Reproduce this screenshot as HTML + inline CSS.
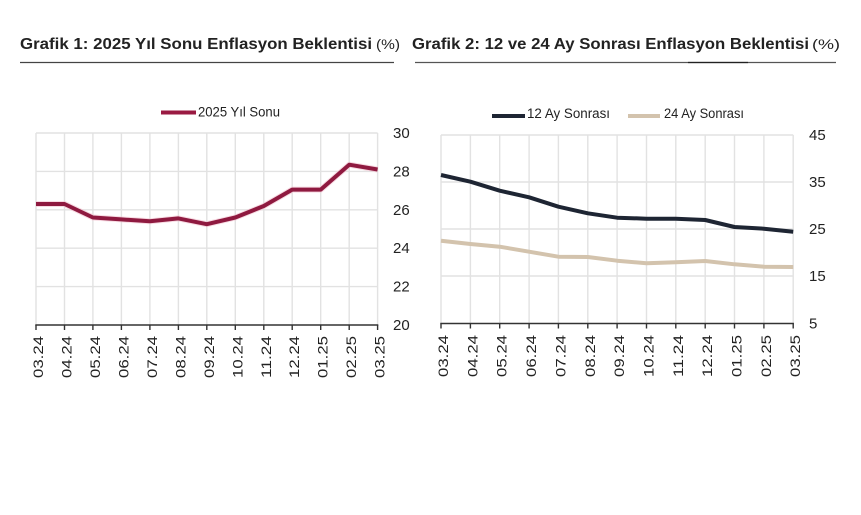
<!DOCTYPE html>
<html><head><meta charset="utf-8"><style>
html,body{margin:0;padding:0;background:#fff;}
svg{display:block;}
text{font-family:"Liberation Sans",sans-serif;fill:#222;}
</style></head><body>
<svg width="861" height="515" viewBox="0 0 861 515" xmlns="http://www.w3.org/2000/svg">
<rect width="861" height="515" fill="#fff"/>
<!-- Titles -->
<text x="20" y="49" font-size="16" font-weight="bold" textLength="352" lengthAdjust="spacingAndGlyphs" fill="#111">Grafik 1: 2025 Yıl Sonu Enflasyon Beklentisi</text>
<text x="376" y="49" font-size="14" textLength="24" lengthAdjust="spacingAndGlyphs" fill="#333">(%)</text>
<line x1="20" y1="62.5" x2="394" y2="62.5" stroke="#444" stroke-width="1.3"/>
<text x="412" y="49" font-size="16" font-weight="bold" textLength="397" lengthAdjust="spacingAndGlyphs" fill="#111">Grafik 2: 12 ve 24 Ay Sonrası Enflasyon Beklentisi</text>
<text x="812" y="49" font-size="14" textLength="28" lengthAdjust="spacingAndGlyphs" fill="#333">(%)</text>
<line x1="415" y1="62.5" x2="836" y2="62.5" stroke="#555" stroke-width="1.3"/>
<line x1="688" y1="62.5" x2="748" y2="62.5" stroke="#222" stroke-width="1.3"/>

<!-- Chart 1 legend -->
<line x1="161" y1="112.5" x2="196" y2="112.5" stroke="#9a1a42" stroke-width="4"/>
<text x="198" y="116.5" font-size="13.5" textLength="82" lengthAdjust="spacingAndGlyphs" fill="#333">2025 Yıl Sonu</text>

<!-- Chart 1 grid -->
<g stroke="#e2e2e2" stroke-width="1.4" fill="none">
<line x1="36" y1="133" x2="377.6" y2="133"/>
<line x1="36" y1="171.4" x2="377.6" y2="171.4"/>
<line x1="36" y1="209.8" x2="377.6" y2="209.8"/>
<line x1="36" y1="248.2" x2="377.6" y2="248.2"/>
<line x1="36" y1="286.6" x2="377.6" y2="286.6"/>
<line x1="36" y1="133" x2="36" y2="325"/>
<line x1="64.5" y1="133" x2="64.5" y2="325"/>
<line x1="92.9" y1="133" x2="92.9" y2="325"/>
<line x1="121.4" y1="133" x2="121.4" y2="325"/>
<line x1="149.9" y1="133" x2="149.9" y2="325"/>
<line x1="178.4" y1="133" x2="178.4" y2="325"/>
<line x1="206.8" y1="133" x2="206.8" y2="325"/>
<line x1="235.3" y1="133" x2="235.3" y2="325"/>
<line x1="263.8" y1="133" x2="263.8" y2="325"/>
<line x1="292.2" y1="133" x2="292.2" y2="325"/>
<line x1="320.7" y1="133" x2="320.7" y2="325"/>
<line x1="349.2" y1="133" x2="349.2" y2="325"/>
<line x1="377.6" y1="133" x2="377.6" y2="325"/>
</g>
<g stroke="#333" stroke-width="1.4">
<line x1="35.3" y1="325" x2="378.3" y2="325"/>
<line x1="36" y1="325" x2="36" y2="330"/>
<line x1="64.5" y1="325" x2="64.5" y2="330"/>
<line x1="92.9" y1="325" x2="92.9" y2="330"/>
<line x1="121.4" y1="325" x2="121.4" y2="330"/>
<line x1="149.9" y1="325" x2="149.9" y2="330"/>
<line x1="178.4" y1="325" x2="178.4" y2="330"/>
<line x1="206.8" y1="325" x2="206.8" y2="330"/>
<line x1="235.3" y1="325" x2="235.3" y2="330"/>
<line x1="263.8" y1="325" x2="263.8" y2="330"/>
<line x1="292.2" y1="325" x2="292.2" y2="330"/>
<line x1="320.7" y1="325" x2="320.7" y2="330"/>
<line x1="349.2" y1="325" x2="349.2" y2="330"/>
<line x1="377.6" y1="325" x2="377.6" y2="330"/>
</g>
<polyline fill="none" stroke="#f3c3d0" stroke-width="6" stroke-linejoin="round" opacity="0.6"
 points="36,204 64.5,204 92.9,217.5 121.4,219.4 149.9,221.3 178.4,218.4 206.8,224.2 235.3,217.5 263.8,206 292.2,189.6 320.7,189.6 349.2,164.7 377.6,169.5"/>
<polyline fill="none" stroke="#8f1a40" stroke-width="4" stroke-linejoin="round"
 points="36,204 64.5,204 92.9,217.5 121.4,219.4 149.9,221.3 178.4,218.4 206.8,224.2 235.3,217.5 263.8,206 292.2,189.6 320.7,189.6 349.2,164.7 377.6,169.5"/>
<g font-size="15" fill="#222">
<text x="393" y="138">30</text>
<text x="393" y="176.4">28</text>
<text x="393" y="214.8">26</text>
<text x="393" y="253.2">24</text>
<text x="393" y="291.6">22</text>
<text x="393" y="330">20</text>
</g>
<g font-size="14" text-anchor="end">
<text transform="translate(43,336) rotate(-90)" textLength="42" lengthAdjust="spacingAndGlyphs">03.24</text>
<text transform="translate(71.5,336) rotate(-90)" textLength="42" lengthAdjust="spacingAndGlyphs">04.24</text>
<text transform="translate(99.9,336) rotate(-90)" textLength="42" lengthAdjust="spacingAndGlyphs">05.24</text>
<text transform="translate(128.4,336) rotate(-90)" textLength="42" lengthAdjust="spacingAndGlyphs">06.24</text>
<text transform="translate(156.9,336) rotate(-90)" textLength="42" lengthAdjust="spacingAndGlyphs">07.24</text>
<text transform="translate(185.4,336) rotate(-90)" textLength="42" lengthAdjust="spacingAndGlyphs">08.24</text>
<text transform="translate(213.8,336) rotate(-90)" textLength="42" lengthAdjust="spacingAndGlyphs">09.24</text>
<text transform="translate(242.3,336) rotate(-90)" textLength="42" lengthAdjust="spacingAndGlyphs">10.24</text>
<text transform="translate(270.8,336) rotate(-90)" textLength="42" lengthAdjust="spacingAndGlyphs">11.24</text>
<text transform="translate(299.2,336) rotate(-90)" textLength="42" lengthAdjust="spacingAndGlyphs">12.24</text>
<text transform="translate(327.7,336) rotate(-90)" textLength="42" lengthAdjust="spacingAndGlyphs">01.25</text>
<text transform="translate(356.2,336) rotate(-90)" textLength="42" lengthAdjust="spacingAndGlyphs">02.25</text>
<text transform="translate(384.6,336) rotate(-90)" textLength="42" lengthAdjust="spacingAndGlyphs">03.25</text>
</g>

<!-- Chart 2 legend -->
<line x1="492" y1="116" x2="525" y2="116" stroke="#1e2533" stroke-width="4"/>
<text x="527" y="118" font-size="13.5" textLength="83" lengthAdjust="spacingAndGlyphs" fill="#333">12 Ay Sonrası</text>
<line x1="628" y1="116" x2="660" y2="116" stroke="#d3c3ad" stroke-width="4"/>
<text x="664" y="118" font-size="13.5" textLength="80" lengthAdjust="spacingAndGlyphs" fill="#333">24 Ay Sonrası</text>

<!-- Chart 2 grid -->
<g stroke="#e2e2e2" stroke-width="1.4" fill="none">
<line x1="441" y1="135" x2="793.2" y2="135"/>
<line x1="441" y1="182" x2="793.2" y2="182"/>
<line x1="441" y1="229" x2="793.2" y2="229"/>
<line x1="441" y1="276" x2="793.2" y2="276"/>
<line x1="441" y1="135" x2="441" y2="323.5"/>
<line x1="470.4" y1="135" x2="470.4" y2="323.5"/>
<line x1="499.7" y1="135" x2="499.7" y2="323.5"/>
<line x1="529.1" y1="135" x2="529.1" y2="323.5"/>
<line x1="558.4" y1="135" x2="558.4" y2="323.5"/>
<line x1="587.8" y1="135" x2="587.8" y2="323.5"/>
<line x1="617.1" y1="135" x2="617.1" y2="323.5"/>
<line x1="646.5" y1="135" x2="646.5" y2="323.5"/>
<line x1="675.8" y1="135" x2="675.8" y2="323.5"/>
<line x1="705.2" y1="135" x2="705.2" y2="323.5"/>
<line x1="734.5" y1="135" x2="734.5" y2="323.5"/>
<line x1="763.9" y1="135" x2="763.9" y2="323.5"/>
<line x1="793.2" y1="135" x2="793.2" y2="323.5"/>
</g>
<g stroke="#333" stroke-width="1.4">
<line x1="440.3" y1="323.5" x2="793.9" y2="323.5"/>
<line x1="441" y1="323.5" x2="441" y2="328.5"/>
<line x1="470.4" y1="323.5" x2="470.4" y2="328.5"/>
<line x1="499.7" y1="323.5" x2="499.7" y2="328.5"/>
<line x1="529.1" y1="323.5" x2="529.1" y2="328.5"/>
<line x1="558.4" y1="323.5" x2="558.4" y2="328.5"/>
<line x1="587.8" y1="323.5" x2="587.8" y2="328.5"/>
<line x1="617.1" y1="323.5" x2="617.1" y2="328.5"/>
<line x1="646.5" y1="323.5" x2="646.5" y2="328.5"/>
<line x1="675.8" y1="323.5" x2="675.8" y2="328.5"/>
<line x1="705.2" y1="323.5" x2="705.2" y2="328.5"/>
<line x1="734.5" y1="323.5" x2="734.5" y2="328.5"/>
<line x1="763.9" y1="323.5" x2="763.9" y2="328.5"/>
<line x1="793.2" y1="323.5" x2="793.2" y2="328.5"/>
</g>
<polyline fill="none" stroke="#d3c3ad" stroke-width="4" stroke-linejoin="round"
 points="441,240.7 470.4,244 499.7,246.7 529.1,251.7 558.4,256.7 587.8,257 617.1,260.7 646.5,263.3 675.8,262.3 705.2,261 734.5,264.3 763.9,266.7 793.2,267"/>
<polyline fill="none" stroke="#1e2533" stroke-width="4" stroke-linejoin="round"
 points="441,175 470.4,181.7 499.7,190.7 529.1,197.3 558.4,206.7 587.8,213.3 617.1,217.7 646.5,218.7 675.8,218.7 705.2,220 734.5,227 763.9,228.7 793.2,231.7"/>
<g font-size="15" fill="#222">
<text x="809" y="140">45</text>
<text x="809" y="187">35</text>
<text x="809" y="234">25</text>
<text x="809" y="281">15</text>
<text x="809" y="328.5">5</text>
</g>
<g font-size="14" text-anchor="end">
<text transform="translate(448,335) rotate(-90)" textLength="42" lengthAdjust="spacingAndGlyphs">03.24</text>
<text transform="translate(477.4,335) rotate(-90)" textLength="42" lengthAdjust="spacingAndGlyphs">04.24</text>
<text transform="translate(506.7,335) rotate(-90)" textLength="42" lengthAdjust="spacingAndGlyphs">05.24</text>
<text transform="translate(536.1,335) rotate(-90)" textLength="42" lengthAdjust="spacingAndGlyphs">06.24</text>
<text transform="translate(565.4,335) rotate(-90)" textLength="42" lengthAdjust="spacingAndGlyphs">07.24</text>
<text transform="translate(594.8,335) rotate(-90)" textLength="42" lengthAdjust="spacingAndGlyphs">08.24</text>
<text transform="translate(624.1,335) rotate(-90)" textLength="42" lengthAdjust="spacingAndGlyphs">09.24</text>
<text transform="translate(653.5,335) rotate(-90)" textLength="42" lengthAdjust="spacingAndGlyphs">10.24</text>
<text transform="translate(682.8,335) rotate(-90)" textLength="42" lengthAdjust="spacingAndGlyphs">11.24</text>
<text transform="translate(712.2,335) rotate(-90)" textLength="42" lengthAdjust="spacingAndGlyphs">12.24</text>
<text transform="translate(741.5,335) rotate(-90)" textLength="42" lengthAdjust="spacingAndGlyphs">01.25</text>
<text transform="translate(770.9,335) rotate(-90)" textLength="42" lengthAdjust="spacingAndGlyphs">02.25</text>
<text transform="translate(800.2,335) rotate(-90)" textLength="42" lengthAdjust="spacingAndGlyphs">03.25</text>
</g>
</svg>
</body></html>
